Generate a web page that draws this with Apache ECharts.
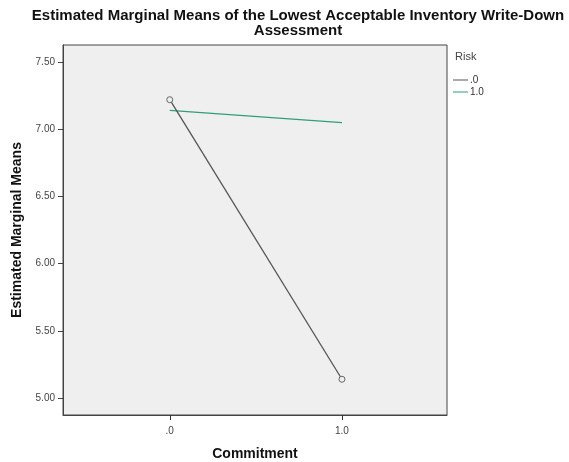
<!DOCTYPE html>
<html><head><meta charset="utf-8">
<script src="https://cdn.jsdelivr.net/npm/echarts@6/dist/echarts.min.js"></script>
<style>html,body{margin:0;padding:0;background:#fff}#c{width:569px;height:462px}</style>
</head><body><div id="c"></div>
<script>
const commitment = [0, 1];
const riskLabels = ['.0', '1.0'];
const riskColors = ['#555555', '#2e9e7c'];
const risk0 = [7.22, 5.14];
const risk1 = [7.14, 7.05];
const yTicks = [5.0, 5.5, 6.0, 6.5, 7.0, 7.5];
const xTickLabels = {0: '.0', 1: '1.0'};

const chart = echarts.init(document.getElementById('c'));
const font = 'Liberation Sans, Arial, sans-serif';
chart.setOption({
  animation: false,
  backgroundColor: '#fff',
  title: {
    text: 'Estimated Marginal Means of the Lowest Acceptable Inventory Write-Down\nAssessment',
    left: 293, textAlign: 'center', top: 3,
    textStyle: {fontFamily: font, fontSize: 15, fontWeight: 'bold', color: '#111', lineHeight: 15}
  },
  graphic: [{
    type: 'text', left: 455, top: 51,
    style: {text: 'Risk', font: '11px ' + font, fill: '#444'}
  }],
  legend: {
    orient: 'vertical', left: 448, top: 70, itemGap: 2,
    itemWidth: 15, itemHeight: 1, icon: 'rect',
    textStyle: {fontFamily: font, fontSize: 10, color: '#333', padding: [0,0,0,-3]},
    data: riskLabels.map((n, i) => ({name: n, itemStyle: {color: riskColors[i], borderWidth: 0}}))
  },
  grid: {left: 63, top: 45, width: 384, height: 370, show: true, outerBoundsMode: 'none', containLabel: false,
    backgroundColor: '#efefef', borderColor: '#444', borderWidth: 1},
  xAxis: {
    type: 'value', min: -0.62, max: 1.61,
    name: 'Commitment', nameLocation: 'middle', nameGap: 32,
    nameTextStyle: {fontFamily: font, fontSize: 14, fontWeight: 'bold', color: '#111'},
    axisLine: {show: true, onZero: false, lineStyle: {color: '#444'}},
    axisTick: {show: true, inside: false, customValues: commitment, length: 5, lineStyle: {color: '#333', width: 1}},
    axisLabel: {customValues: commitment, formatter: v => xTickLabels[v] ?? '', fontFamily: font, fontSize: 10, color: '#444', margin: 11},
    splitLine: {show: false}
  },
  yAxis: {
    type: 'value', min: 4.874, max: 7.627,
    name: 'Estimated Marginal Means', nameLocation: 'middle', nameGap: 36,
    nameTextStyle: {fontFamily: font, fontSize: 14, fontWeight: 'bold', color: '#111'},
    axisLine: {show: true, onZero: false, lineStyle: {color: '#444'}},
    axisTick: {show: true, customValues: yTicks, length: 5, lineStyle: {color: '#444'}},
    axisLabel: {customValues: yTicks, formatter: v => v.toFixed(2), fontFamily: font, fontSize: 10, color: '#444', margin: 8},
    splitLine: {show: false}
  },
  series: [
    {name: riskLabels[0], type: 'line', data: commitment.map((c, i) => [c, risk0[i]]),
     symbol: 'circle', symbolSize: 6, showSymbol: true,
     itemStyle: {color: '#efefef', borderColor: '#666', borderWidth: 1},
     lineStyle: {color: riskColors[0], width: 1.3}, z: 3},
    {name: riskLabels[1], type: 'line', data: commitment.map((c, i) => [c, risk1[i]]),
     symbol: 'none',
     lineStyle: {color: riskColors[1], width: 1.3}, z: 2}
  ]
});
</script></body></html>
